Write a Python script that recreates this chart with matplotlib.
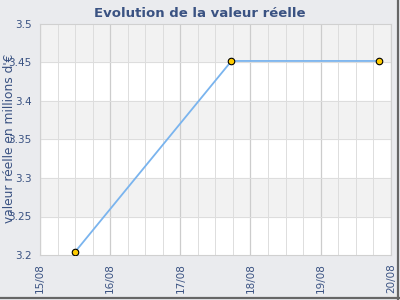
import matplotlib
matplotlib.use('Agg')
import matplotlib.pyplot as plt
import matplotlib.dates as mdates
from datetime import datetime

# data
dates = ['2024-08-15 12:00', '2024-08-17 17:30', '2024-08-19 20:00']
values = [3.204, 3.452, 3.452]
y_ticks = [3.2, 3.25, 3.3, 3.35, 3.4, 3.45, 3.5]
x_days = ['2024-08-15', '2024-08-16', '2024-08-17', '2024-08-18', '2024-08-19', '2024-08-20']

x = [datetime.strptime(d, '%Y-%m-%d %H:%M') for d in dates]
xd = [datetime.strptime(d, '%Y-%m-%d') for d in x_days]

txt = '#3a5282'
fig = plt.figure(figsize=(4, 3), dpi=100, facecolor='#eaebee')
ax = fig.add_axes([0.1, 0.15, 0.877, 0.77])
ax.set_facecolor('white')

# alternating bands
for i in range(len(y_ticks) - 1):
    if i % 2 == 1:
        ax.axhspan(y_ticks[i], y_ticks[i + 1], color='#f2f2f2', zorder=0)

ax.plot(x, values, color='#7ab4ee', lw=1.3, zorder=3)
ax.scatter(x, values, s=22, color='#ffcc00', edgecolor='black', lw=0.8, zorder=4)

ax.set_xlim(xd[0], xd[-1])
ax.set_ylim(3.2, 3.5)
ax.set_yticks(y_ticks)
ax.set_yticklabels([f'{v:g}' for v in y_ticks])
ax.xaxis.set_major_locator(mdates.DayLocator())
ax.xaxis.set_major_formatter(mdates.DateFormatter('%d/%m'))
ax.xaxis.set_minor_locator(mdates.HourLocator(byhour=[6, 12, 18]))
ax.grid(True, which='major', axis='x', color='#cccccc', lw=0.9)
ax.grid(True, which='minor', axis='x', color='#dddddd', lw=0.7)
ax.grid(True, which='major', axis='y', color='#dddddd', lw=0.7)
ax.set_axisbelow(True)
for s in ax.spines.values():
    s.set_color('#d0d0d0')
ax.tick_params(length=0, colors=txt, labelsize=7.5, pad=6)
ax.tick_params(axis='x', which='minor', length=0)
plt.setp(ax.get_xticklabels(), rotation=90)

fig.text(0.5, 0.955, 'Evolution de la valeur réelle', color=txt, fontsize=9.5,
         fontweight='bold', ha='center', va='center')
fig.text(0.008, 0.54, "valeur réelle en millions d'€", rotation=90, color=txt,
         fontsize=8.8, va='center', ha='left')

# shadow edge on right and bottom
fig.add_artist(plt.Line2D([0.996, 0.996], [0.0, 1.0], color='#666666', lw=1.6))
fig.add_artist(plt.Line2D([0.0, 1.0], [0.006, 0.006], color='#666666', lw=1.6))

fig.savefig('out.png', dpi=100, facecolor=fig.get_facecolor())
